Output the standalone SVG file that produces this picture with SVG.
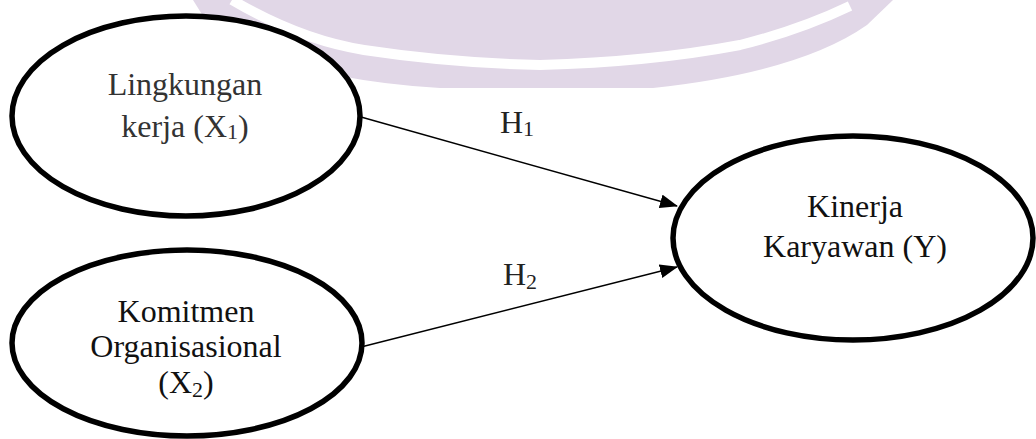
<svg xmlns="http://www.w3.org/2000/svg" width="1036" height="439" viewBox="0 0 1036 439">
<style>
.node{fill:#fff;stroke:#000;stroke-width:5.5}
.lbl{font-family:"Liberation Serif","Times New Roman",serif;font-size:32px;text-anchor:middle;fill:#111}
.lbl.g{fill:#333}
.h{font-family:"Liberation Serif","Times New Roman",serif;font-size:32px;fill:#222}
.sub{font-size:22px}
.edge{stroke:#000;stroke-width:1.4;fill:none}
</style>
<defs>
<marker id="arr" markerUnits="userSpaceOnUse" markerWidth="18" markerHeight="14" refX="17" refY="7" orient="auto">
<path d="M0,0 L18,7 L0,14 Z" fill="#000"/>
</marker>
</defs>
<rect width="1036" height="439" fill="#fff"/>
<g id="watermark">
<path d="M193,0 L213,32 Q300,80 440,88 L653,88 Q800,72 867,25 L893,0 Z" fill="#e1d7e7"/>
<path d="M232,0 Q300,40 364,50 Q450,63 540,65 Q650,62 740,45 Q800,30 850,6" fill="none" stroke="#fff" stroke-width="10"/>
</g>
<g id="edges">
<line class="edge" x1="361" y1="117" x2="677" y2="206" marker-end="url(#arr)"/>
<line class="edge" x1="361" y1="347" x2="677" y2="267" marker-end="url(#arr)"/>
<text class="h" x="500" y="133">H<tspan class="sub" dy="3">1</tspan></text>
<text class="h" x="503" y="285">H<tspan class="sub" dy="4">2</tspan></text>
</g>
<g id="node-x1">
<ellipse class="node" cx="186" cy="116" rx="174" ry="100"/>
<text class="lbl g" x="185" y="95">Lingkungan</text>
<text class="lbl g" x="185" y="137">kerja (X<tspan class="sub" dy="2">1</tspan><tspan dy="-2">)</tspan></text>
</g>
<g id="node-x2">
<ellipse class="node" cx="187" cy="343" rx="175" ry="93"/>
<text class="lbl" x="186" y="322">Komitmen</text>
<text class="lbl" x="186" y="357">Organisasional</text>
<text class="lbl" x="186" y="393">(X<tspan class="sub" dy="4">2</tspan><tspan dy="-4">)</tspan></text>
</g>
<g id="node-y">
<ellipse class="node" cx="853" cy="238" rx="180" ry="102"/>
<text class="lbl" x="855" y="217">Kinerja</text>
<text class="lbl" x="855" y="257">Karyawan (Y)</text>
</g>
</svg>
